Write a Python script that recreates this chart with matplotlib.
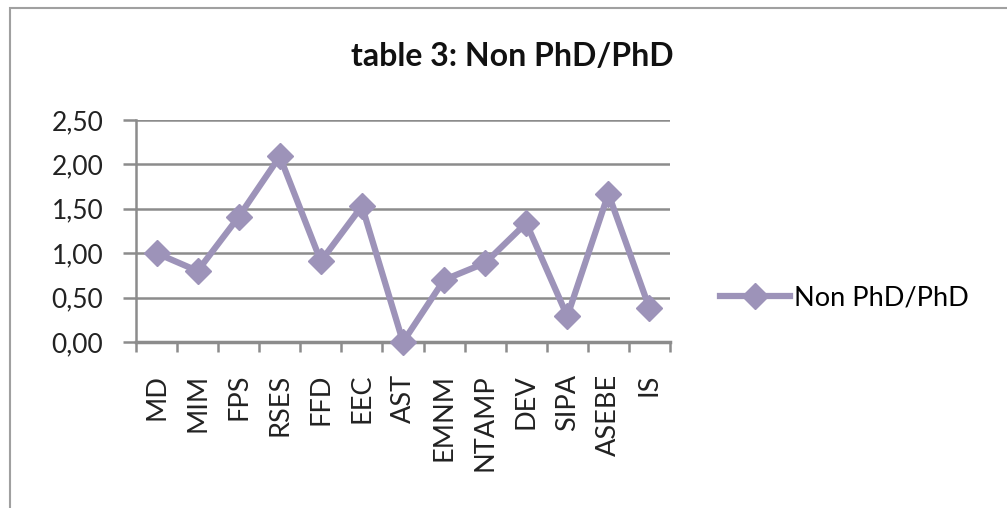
import matplotlib.pyplot as plt
from matplotlib.patches import Rectangle
from matplotlib.lines import Line2D
import numpy as np

plt.rcParams['font.family'] = ['Lato', 'DejaVu Sans']

categories = ['MD', 'MIM', 'FPS', 'RSES', 'FFD', 'EEC', 'AST',
              'EMNM', 'NTAMP', 'DEV', 'SIPA', 'ASEBE', 'IS']
ratio = [1.00, 0.80, 1.41, 2.09, 0.91, 1.53, 0.00,
         0.70, 0.89, 1.34, 0.29, 1.67, 0.38]
yticks = [0.0, 0.5, 1.0, 1.5, 2.0, 2.5]
series_name = 'Non PhD/PhD'
title = 'table 3: Non PhD/PhD'

line_color = '#9d93b9'
grid_color = '#8c8c8c'

fig = plt.figure(figsize=(10.07, 5.08), dpi=100)

# chart area frame
fig.patches.append(Rectangle((10 / 1007, -0.1), 1.2, 1 - 8 / 508 + 0.1,
                             transform=fig.transFigure, fill=False,
                             edgecolor='#a0a0a0', linewidth=1.5))

ax = fig.add_axes([136 / 1007, 1 - 342 / 508, 534 / 1007, 222 / 508])
x = np.arange(len(categories))
ax.plot(x, ratio, color=line_color, linewidth=4.5, marker='D',
        markersize=13, markerfacecolor=line_color, markeredgecolor=line_color,
        clip_on=False, zorder=3)

ax.set_xlim(-0.5, len(categories) - 0.5)
ax.set_ylim(0, 2.5)
ax.set_yticks(yticks)
ax.set_yticklabels([f'{v:.2f}'.replace('.', ',') for v in yticks],
                   fontsize=19, color='#222222')
ax.set_xticks(x)
ax.set_xticklabels(categories, rotation=90, fontsize=19.5, color='#222222')
ax.set_xticks(np.arange(-0.5, len(categories), 1), minor=True)
ax.tick_params(axis='x', which='major', length=0, pad=23)
ax.tick_params(axis='x', which='minor', length=7, width=1.8,
               color=grid_color, direction='out')
ax.tick_params(axis='y', length=9.5, width=1.8, color=grid_color, pad=14)

ax.grid(axis='y', color=grid_color, linewidth=1.8)
ax.set_axisbelow(True)
for side in ['top', 'right']:
    ax.spines[side].set_visible(False)
ax.spines['left'].set_color(grid_color)
ax.spines['left'].set_linewidth(1.8)
ax.spines['bottom'].set_color(grid_color)
ax.spines['bottom'].set_linewidth(2.5)

fig.text(512 / 1007, 1 - 57 / 508, title, ha='center', va='center',
         fontsize=23, fontweight='bold', color='#111111')

handle = Line2D([], [], color=line_color, linewidth=4.5, marker='D',
                markersize=13, markerfacecolor=line_color,
                markeredgecolor=line_color)
fig.legend([handle], [series_name], loc='center left',
           bbox_to_anchor=(720 / 1007, 1 - 298 / 508), frameon=False,
           borderpad=0, borderaxespad=0,
           fontsize=19.5, handlelength=2.6, handletextpad=0.15)

fig.savefig('out.png', dpi=100)
